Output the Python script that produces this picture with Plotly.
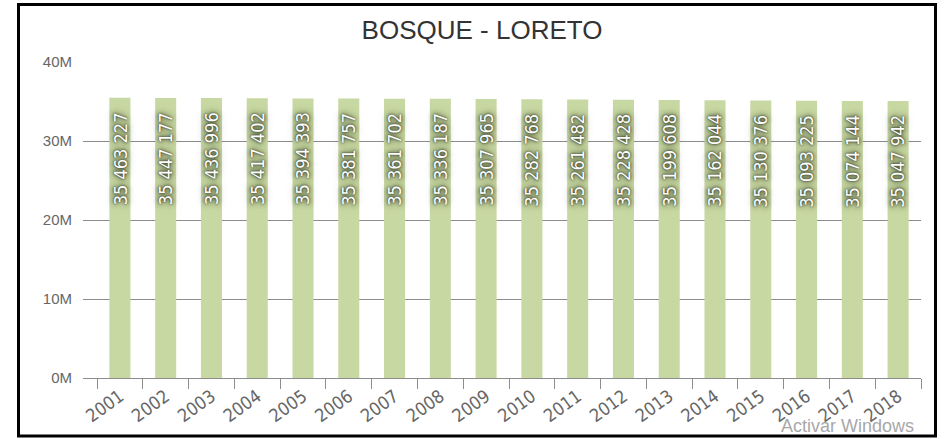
import plotly.graph_objects as go

years = ["2001", "2002", "2003", "2004", "2005", "2006", "2007", "2008", "2009",
         "2010", "2011", "2012", "2013", "2014", "2015", "2016", "2017", "2018"]
forest = [35463227, 35447177, 35436996, 35417402, 35394393, 35381757, 35361702,
          35336187, 35307965, 35282768, 35261482, 35228428, 35199608, 35162044,
          35130376, 35093225, 35074144, 35047942]
y_ticks = [0, 10e6, 20e6, 30e6, 40e6]
y_tick_text = ["0M", "10M", "20M", "30M", "40M"]
title = "BOSQUE - LORETO"

W, H = 945, 439
ML, MR, MT, MB = 83, 24, 62, 61
PW, PH = W - ML - MR, H - MT - MB

def px_x(p):  # screen px -> paper x
    return (p - ML) / PW

def px_y(p):  # screen px -> paper y
    return (H - MB - p) / PH

def fmt(v):
    return f"{v:,}".replace(",", " ")

narrow = "Liberation Sans Narrow, Arial Narrow, DejaVu Sans Condensed, sans-serif"
label_font = dict(family=narrow, size=18, color="white",
                  shadow="0px 0px 2px rgba(35,42,22,1), 0px 0px 5px rgba(35,42,22,0.9), "
                         "0px 0px 9px rgba(35,42,22,0.6)")

fig = go.Figure()
fig.add_trace(go.Bar(
    x=years, y=forest,
    marker=dict(color="#c8d8a2", line=dict(width=0)),
    hoverinfo="x+y",
))

for i, v in enumerate(forest):
    fig.add_annotation(
        x=i, y=v, xref="x", yref="y",
        text=fmt(v), textangle=-90, showarrow=False,
        yanchor="top", xanchor="center", yshift=-12,
        font=label_font,
    )

fig.add_annotation(
    x=px_x(779), y=px_y(426), xref="paper", yref="paper",
    xanchor="left", yanchor="middle", showarrow=False,
    text="Activar Windows",
    font=dict(family="Liberation Sans, Arial, sans-serif", size=18, color="#a8a8a8"),
)

fig.add_shape(
    type="rect", xref="paper", yref="paper",
    x0=px_x(18.5), x1=px_x(935.5), y0=px_y(436), y1=px_y(4.5),
    line=dict(color="black", width=3), fillcolor="rgba(0,0,0,0)", layer="above",
)

fig.update_layout(
    width=W, height=H,
    margin=dict(l=ML, r=MR, t=MT, b=MB, pad=0),
    paper_bgcolor="white", plot_bgcolor="white",
    showlegend=False,
    bargap=0.54,
    title=dict(text=title, x=482 / W, xref="container", xanchor="center",
               y=1 - 30 / H, yref="container", yanchor="middle",
               font=dict(family="Liberation Sans, Arial, sans-serif", size=26, color="#333333")),
    xaxis=dict(
        type="category",
        range=[-0.806, 17.5],
        tickson="boundaries",
        ticks="outside", ticklen=10, tickcolor="#8c8c8c", tickwidth=1,
        showgrid=False,
        showline=True, linecolor="#8c8c8c", linewidth=1,
        tickangle=-36,
        tickfont=dict(family=narrow, size=18, color="#666666"),
        fixedrange=True,
    ),
    yaxis=dict(
        range=[0, 40e6],
        tickvals=y_ticks, ticktext=y_tick_text,
        showgrid=True, gridcolor="#8c8c8c", gridwidth=1,
        zeroline=False, showline=False,
        ticks="", ticklabelstandoff=10,
        tickfont=dict(family="Liberation Sans, Arial, sans-serif", size=15, color="#666666"),
        fixedrange=True,
    ),
)

fig.write_html(
    "out.html",
    config={"displayModeBar": False},
    post_script="document.body.style.margin='0px';document.body.style.overflow='hidden';"
                "document.documentElement.style.overflow='hidden';",
)
